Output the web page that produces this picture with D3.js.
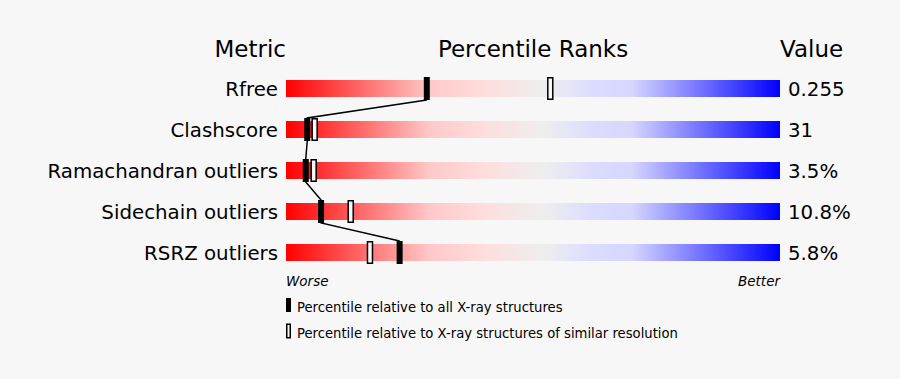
<!DOCTYPE html>
<html>
<head>
<meta charset="utf-8">
<script src="https://cdn.jsdelivr.net/npm/d3@7"></script>
<style>
  html, body { margin: 0; padding: 0; background: #f7f7f7; }
  svg { display: block; font-family: "DejaVu Sans", sans-serif; }
</style>
</head>
<body>
<svg id="chart" width="900" height="379"></svg>
<script>
const metrics = ["Rfree", "Clashscore", "Ramachandran outliers", "Sidechain outliers", "RSRZ outliers"];
const valueLabels = ["0.255", "31", "3.5%", "10.8%", "5.8%"];
const absolutePct = [28.5, 4.3, 4.0, 7.1, 23.0];
const relativePct = [53.5, 5.8, 5.6, 13.1, 17.0];
const headers = ["Metric", "Percentile Ranks", "Value"];
const axisLabels = ["Worse", "Better"];
const legendLabels = ["Percentile relative to all X-ray structures", "Percentile relative to X-ray structures of similar resolution"];

const svg = d3.select("#chart");
svg.append("rect").attr("width", 900).attr("height", 379).attr("fill", "#f7f7f7");

const x = d3.scaleLinear().domain([0, 100]).range([286, 780]);
const y = d3.scalePoint().domain(metrics).range([88.5, 252.5]);
const barH = 17, mW = 6, mH = 23;

const defs = svg.append("defs");
const grad = defs.append("linearGradient").attr("id", "grad").attr("x1", "0%").attr("x2", "100%").attr("y1", "0%").attr("y2", "0%");
[[0, "#ff0000"], [0.29, "#ffc8c8"], [0.4, "#ffdddd"], [0.52, "#eeeeee"], [0.62, "#dcdcff"], [0.7, "#d6d6ff"], [1, "#0000ff"]]
  .forEach(([o, c]) => grad.append("stop").attr("offset", o).attr("stop-color", c));

// headers
svg.append("text").attr("x", 286).attr("y", 57).attr("text-anchor", "end").attr("font-size", 23).text(headers[0]);
svg.append("text").attr("x", (x(0) + x(100)) / 2).attr("y", 57).attr("text-anchor", "middle").attr("font-size", 23).text(headers[1]);
svg.append("text").attr("x", 780).attr("y", 57).attr("text-anchor", "start").attr("font-size", 23).text(headers[2]);

const rows = svg.append("g").selectAll("g").data(metrics).join("g");
rows.append("rect").attr("x", x(0)).attr("y", d => y(d) - barH / 2).attr("width", x(100) - x(0)).attr("height", barH).attr("fill", "url(#grad)");
rows.append("text").attr("x", 278).attr("y", d => y(d) + 7.5).attr("text-anchor", "end").attr("font-size", 19.8).text(d => d);
rows.append("text").attr("x", 788).attr("y", d => y(d) + 7.5).attr("text-anchor", "start").attr("font-size", 19.8).text((d, i) => valueLabels[i]);

// connecting line
const pts = [];
metrics.forEach((m, i) => {
  if (i > 0) pts.push([x(absolutePct[i]), y(m) - mH / 2]);
  if (i < metrics.length - 1) pts.push([x(absolutePct[i]), y(m) + mH / 2]);
});
svg.append("path").attr("d", d3.line()(pts)).attr("fill", "none").attr("stroke", "#000").attr("stroke-width", 1.5);

// relative markers (open)
svg.append("g").selectAll("rect").data(metrics).join("rect")
  .attr("x", (d, i) => x(relativePct[i]) - 2.5).attr("y", d => y(d) - mH / 2 + 0.75)
  .attr("width", 5).attr("height", mH - 1.5)
  .attr("fill", "#f7f7f7").attr("stroke", "#000").attr("stroke-width", 1.5);
// absolute markers (filled)
svg.append("g").selectAll("rect").data(metrics).join("rect")
  .attr("x", (d, i) => x(absolutePct[i]) - mW / 2).attr("y", d => y(d) - mH / 2)
  .attr("width", mW).attr("height", mH).attr("fill", "#000");

// axis labels
svg.append("text").attr("x", x(0)).attr("y", 286).attr("font-size", 13.5).attr("font-style", "italic").text(axisLabels[0]);
svg.append("text").attr("x", x(100)).attr("y", 286).attr("text-anchor", "end").attr("font-size", 13.5).attr("font-style", "italic").text(axisLabels[1]);

// legend
svg.append("rect").attr("x", 286).attr("y", 298).attr("width", 5).attr("height", 14).attr("fill", "#000");
svg.append("rect").attr("x", 286.75).attr("y", 324.25).attr("width", 3.5).attr("height", 13.5).attr("fill", "#f7f7f7").attr("stroke", "#000").attr("stroke-width", 1.5);
svg.append("text").attr("x", 297).attr("y", 311.5).attr("font-size", 13.2).text(legendLabels[0]);
svg.append("text").attr("x", 297).attr("y", 337.5).attr("font-size", 13.2).text(legendLabels[1]);
</script>
</body>
</html>
